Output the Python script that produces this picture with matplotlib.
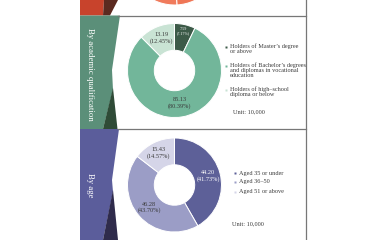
import matplotlib
matplotlib.use("Agg")
import matplotlib.pyplot as plt
from matplotlib.patches import Polygon

plt.rcParams["font.family"] = ["Liberation Serif", "DejaVu Serif"]

# top section (only the bottom of its donut is visible)
top_values = [52.1, 53.81]
top_colors = ["#ef7656", "#f07b5c"]

# by academic qualification
edu_labels = ["Holders of Master’s degree\nor above",
              "Holders of Bachelor’s degrees\nand diplomas in vocational\neducation",
              "Holders of high–school\ndiploma or below"]
edu_values = [7.59, 85.13, 13.19]
edu_pcts = ["7.17%", "80.39%", "12.45%"]
edu_colors = ["#3c5a48", "#72b69a", "#c9e3d4"]

# by age
age_labels = ["Aged 35 or under", "Aged 36–50", "Aged 51 or above"]
age_values = [44.20, 46.28, 15.43]
age_pcts = ["41.73%", "43.70%", "14.57%"]
age_colors = ["#5d6098", "#9b9dc6", "#d5d5e8"]

W, H = 370, 240
fig = plt.figure(figsize=(W / 100, H / 100), dpi=100)
bg = fig.add_axes([0, 0, 1, 1])
bg.set_xlim(0, W)
bg.set_ylim(H, 0)
bg.axis("off")

# side ribbons
bg.add_patch(Polygon([(80, 0), (104, 0), (103, 15.5), (80, 15.5)], color="#c8432c", lw=0))
bg.add_patch(Polygon([(104, 0), (118, 0), (110, 15.5), (103, 15.5)], color="#5b2a20", lw=0))
bg.add_patch(Polygon([(80, 15.5), (120, 15.5), (112, 70), (113, 90), (103, 129), (80, 129)],
                     color="#5b8f79", lw=0))
bg.add_patch(Polygon([(113, 88), (117.5, 129), (103, 129)], color="#2f4b37", lw=0))
bg.add_patch(Polygon([(80, 129), (119, 129), (112, 180), (113, 192), (103, 240), (80, 240)],
                     color="#5b5d9b", lw=0))
bg.add_patch(Polygon([(113, 190), (118, 240), (103, 240)], color="#2f2b4b", lw=0))

# frame lines
bg.plot([118, 306], [15.5, 15.5], color="#777777", lw=0.9)
bg.plot([118, 306], [129, 129], color="#777777", lw=0.9)
bg.plot([306, 306], [0, H], color="#777777", lw=0.9)

bg.text(90, 74, "By academic qualification", color="white", fontsize=6.3,
        rotation=-90, ha="center", va="center")
bg.text(90, 185, "By age", color="white", fontsize=6.3,
        rotation=-90, ha="center", va="center")


def donut(cx, cy, values, colors, r=47):
    ax = fig.add_axes([(cx - r) / W, (H - cy - r) / H, 2 * r / W, 2 * r / H])
    wedges, _ = ax.pie(values, colors=colors, startangle=90, counterclock=False,
                       radius=1, wedgeprops=dict(width=0.57, edgecolor="white", linewidth=0.7))
    ax.set_xlim(-1, 1)
    ax.set_ylim(-1, 1)
    return ax, wedges


def wedge_labels(ax, wedges, values, pcts, colors_txt, sizes, rad):
    import numpy as np
    for w, v, p, c, s, rr in zip(wedges, values, pcts, colors_txt, sizes, rad):
        t = np.deg2rad((w.theta1 + w.theta2) / 2)
        ax.text(rr * np.cos(t), rr * np.sin(t), f"{v:.2f}\n({p})", color=c, fontsize=s,
                ha="center", va="center", linespacing=1.1)


donut(174.5, -42, top_values, top_colors)

ax2, w2 = donut(174.5, 70.5, edu_values, edu_colors)
wedge_labels(ax2, w2, edu_values, edu_pcts, ["white", "#3a3a3a", "#3a3a3a"],
             [3.0, 4.5, 4.5], [0.86, 0.7, 0.75])

ax3, w3 = donut(174.5, 185, age_values, age_colors)
wedge_labels(ax3, w3, age_values, age_pcts, ["white", "#3a3a3a", "#3a3a3a"],
             [4.5, 4.5, 4.5], [0.74, 0.72, 0.76])

# legends
for lab, col, y in zip(edu_labels, edu_colors, [47, 66, 90]):
    bg.plot(226, y, marker="s", ms=2.0, color=col, mec="none")
    bg.text(229.5, y - 3.3, lab, fontsize=4.5, color="#3a3a3a", va="top", linespacing=1.0)
bg.text(233, 112, "Unit: 10,000", fontsize=4.5, color="#3a3a3a", va="center")

for lab, col, y in zip(age_labels, age_colors, [173, 182, 192]):
    bg.plot(235, y, marker="s", ms=2.0, color=col, mec="none")
    bg.text(239, y, lab, fontsize=4.5, color="#3a3a3a", va="center")
bg.text(232, 224, "Unit: 10,000", fontsize=4.5, color="#3a3a3a", va="center")

fig.savefig("out.png", dpi=100)
